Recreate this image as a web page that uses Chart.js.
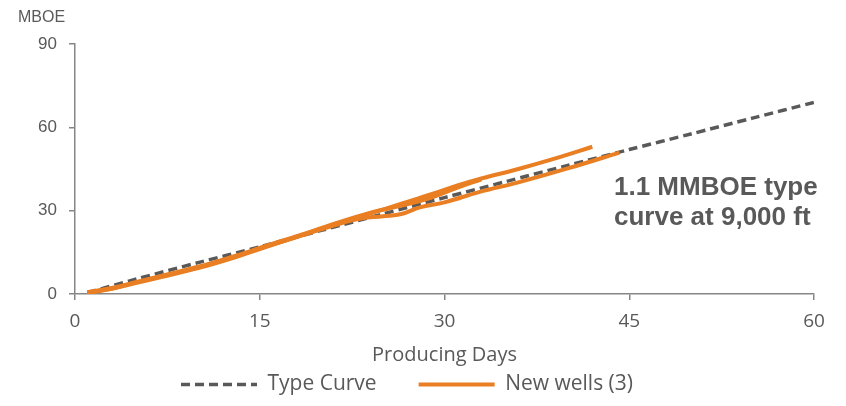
<!DOCTYPE html>
<html>
<head>
<meta charset="utf-8">
<script src="https://cdn.jsdelivr.net/npm/chart.js@4.4.1/dist/chart.umd.min.js"></script>
<style>
  html, body { margin: 0; padding: 0; background: #fff; }
  #wrap { width: 846px; height: 406px; }
</style>
</head>
<body>
<div id="wrap"><canvas id="chart" width="846" height="406"></canvas></div>
<script>
// type curve (days, MBOE)
const typeDays = [1, 5, 10, 15, 20, 25, 30, 35, 40, 45, 50, 55, 60]
const typeValues = [0.5, 5.4, 11.3, 17, 22.9, 28.8, 34.7, 40.5, 46.3, 52, 57.6, 63.3, 69]

// new wells
const well1Days = [1, 3, 5, 7, 10, 13, 15, 18, 21, 24, 26.5, 29, 31, 33, 36, 39, 42]
const well1Values = [0.5, 2, 4.2, 6.3, 9.6, 13.4, 16.6, 20.8, 25, 29, 32.5, 36, 39, 41.6, 45, 48.8, 53]
const well2Days = [1, 3, 5, 7, 10, 13, 15, 18, 21, 23, 25, 26.5, 28, 30, 32.8, 36, 40, 44.2]
const well2Values = [0.6, 2.2, 4.3, 6.5, 9.8, 13.7, 16.4, 20.5, 24.6, 27, 28, 28.8, 31.2, 33, 36.7, 40.2, 45.2, 50.9]
const well3Days = [1, 3, 5, 7, 10, 13, 15, 18, 21, 24, 26.5, 29, 31, 33]
const well3Values = [0.4, 1.9, 4, 6.1, 9.3, 13.2, 16.2, 20.6, 25.2, 29.3, 31.8, 34.8, 38.2, 41.3]

const xTicks = [0, 15, 30, 45, 60]
const yTicks = [0, 30, 60, 90]

const gray = '#595959'
const axisGray = '#868686'
const orange = '#E97E22'
const sans = '"Open Sans", sans-serif'
const arial = '"Liberation Sans", Arial, sans-serif'

function pts(xs, ys) {
  return xs.map((x, i) => ({ x: x, y: ys[i] }))
}

const wellStyle = {
  borderColor: orange,
  backgroundColor: orange,
  borderWidth: 4,
  pointRadius: 0,
  tension: 0.4,
  fill: false,
  order: 1,
}

// extra texts: y unit, x title and annotation
const textPlugin = {
  id: 'texts',
  afterDraw(chart) {
    const ctx = chart.ctx
    const area = chart.chartArea
    ctx.save()
    ctx.fillStyle = gray
    ctx.textBaseline = 'middle'
    ctx.textAlign = 'left'
    ctx.font = '16px ' + arial
    ctx.fillText('MBOE', 18, 18)
    ctx.font = 'bold 26px ' + arial
    ctx.fillText('1.1 MMBOE type', 614, 188)
    ctx.fillText('curve at 9,000 ft', 614, 218)
    ctx.textAlign = 'center'
    ctx.font = '20px ' + sans
    ctx.fillText('Producing Days', (area.left + area.right) / 2, 355)
    ctx.restore()
  },
}

const chart = new Chart(document.getElementById('chart'), {
  type: 'line',
  data: {
    datasets: [
      {
        label: 'Type Curve',
        data: pts(typeDays, typeValues),
        borderColor: gray,
        backgroundColor: gray,
        borderWidth: 3.5,
        borderDash: [9, 5],
        pointRadius: 0,
        tension: 0.3,
        fill: false,
        order: 2,
      },
      { label: 'New wells (3)', data: pts(well1Days, well1Values), ...wellStyle },
      { label: 'New wells', data: pts(well2Days, well2Values), ...wellStyle },
      { label: 'New wells', data: pts(well3Days, well3Values), ...wellStyle },
    ],
  },
  options: {
    responsive: false,
    animation: false,
    layout: { padding: { top: 44, right: 32, left: 0, bottom: 1 } },
    scales: {
      x: {
        type: 'linear',
        min: 0,
        max: 60,
        afterBuildTicks: (scale) => { scale.ticks = xTicks.map((v) => ({ value: v })) },
        afterFit: (scale) => { scale.height = 38 },
        border: { color: axisGray, width: 1.5 },
        grid: { drawOnChartArea: false, drawTicks: true, tickLength: 6, tickColor: axisGray, lineWidth: 1.5 },
        ticks: { color: gray, padding: 10, font: { family: sans, size: 19 } },
      },
      y: {
        min: 0,
        max: 90,
        afterBuildTicks: (scale) => { scale.ticks = yTicks.map((v) => ({ value: v })) },
        afterFit: (scale) => { scale.width = 75 },
        border: { color: axisGray, width: 1.5 },
        grid: { drawOnChartArea: false, drawTicks: true, tickLength: 6, tickColor: axisGray, lineWidth: 1.5 },
        ticks: { color: gray, padding: 12, font: { family: arial, size: 17 } },
      },
    },
    plugins: {
      legend: {
        position: 'bottom',
        labels: {
          generateLabels: (chart) => {
            const items = Chart.defaults.plugins.legend.labels.generateLabels(chart)
            return items
              .filter((item) => item.datasetIndex < 2)
              .map((item) => {
                const ds = chart.data.datasets[item.datasetIndex]
                item.lineDash = ds.borderDash || []
                item.lineWidth = ds.borderWidth
                item.strokeStyle = ds.borderColor
                item.pointStyle = 'line'
                return item
              })
          },
          sort: (a, b) => a.datasetIndex - b.datasetIndex,
          usePointStyle: true,
          pointStyle: 'line',
          pointStyleWidth: 76,
          boxHeight: 4,
          padding: 42,
          color: gray,
          font: { family: sans, size: 21 },
        },
      },
      tooltip: { enabled: false },
    },
  },
  plugins: [textPlugin],
})
</script>
</body>
</html>
